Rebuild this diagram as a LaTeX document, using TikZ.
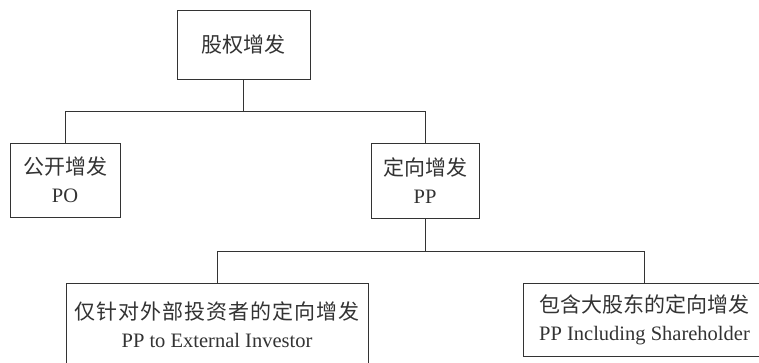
\documentclass[tikz,border=0pt]{standalone}
\usepackage{fontspec}
\setmainfont{Liberation Serif}
\newfontfamily\cjk{Noto Sans CJK SC}
\newfontfamily\cjkwide{Noto Sans CJK SC}[LetterSpace=5]
\definecolor{ink}{HTML}{333333}
\begin{document}
\begin{tikzpicture}[x=1pt,y=-1pt,
  box/.style={draw=ink, line width=1pt, text=ink, align=center, inner sep=0pt,
    font=\fontsize{20.5pt}{28pt}\selectfont},
  link/.style={draw=ink, line width=1pt}]
\clip (0,0) rectangle (759,362);
\fill[white] (0,0) rectangle (759,362);
\node[box, minimum width=133pt, minimum height=69pt] (top) at (243.5,44.5) {\cjk\fontsize{21pt}{28pt}\selectfont 股权增发};
\node[box, minimum width=110pt, minimum height=74pt] (po) at (65,180) {{\cjk\fontsize{21pt}{28pt}\selectfont 公开增发}\\PO};
\node[box, minimum width=108pt, minimum height=75pt] (pp) at (425,180.5) {{\cjk\fontsize{21pt}{28pt}\selectfont 定向增发}\\PP};
\node[box, minimum width=302pt, minimum height=83pt] (ext) at (217,324.5) {{\cjkwide\fontsize{21pt}{28pt}\selectfont 仅针对外部投资者的定向增发}\\PP to External Investor};
\node[box, minimum width=243pt, minimum height=73pt] (incl) at (644.5,319.5) {{\cjk\fontsize{21pt}{28pt}\selectfont 包含大股东的定向增发}\\PP Including Shareholder};
\draw[link] (top.south) -- ++(0,32) coordinate (j1);
\draw[link] (po.north) |- (j1) -| (pp.north);
\draw[link] (pp.south) -- ++(0,33) coordinate (j2);
\draw[link] (ext.north) |- (j2) -| (incl.north);
\end{tikzpicture}
\end{document}
